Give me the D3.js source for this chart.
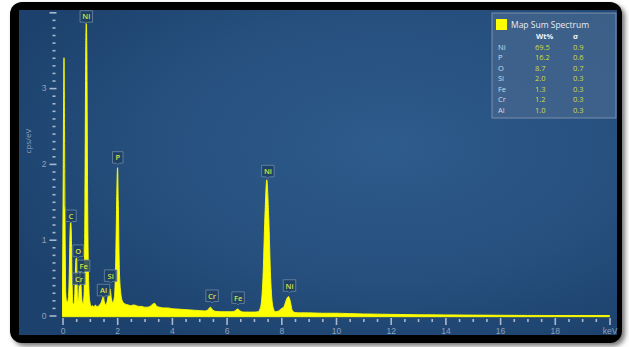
<!DOCTYPE html>
<html><head><meta charset="utf-8">
<script src="https://cdn.jsdelivr.net/npm/d3@7"></script>
<style>
html,body{margin:0;padding:0;background:#fff;}
svg{display:block;font-family:"Open Sans","Noto Sans",sans-serif;}
</style></head>
<body>
<svg id="chart" width="629" height="347"></svg>
<script>
// ---- data ----
// spectrum: [keV, cps/eV]
const spectrum = [
 [0.00,0.40],[0.02,1.50],[0.055,3.40],[0.09,1.40],[0.12,0.30],[0.15,0.19],[0.18,0.18],
 [0.22,0.25],[0.25,0.60],[0.28,1.15],[0.30,1.24],[0.32,1.12],[0.35,0.45],[0.38,0.16],
 [0.42,0.15],[0.45,0.30],[0.49,0.74],[0.51,0.76],[0.55,0.25],[0.58,0.18],
 [0.61,0.40],[0.64,0.57],[0.67,0.45],[0.71,0.20],[0.75,0.15],[0.79,0.30],
 [0.82,1.50],[0.85,3.50],[0.87,3.88],[0.89,3.50],[0.92,1.50],[0.96,0.40],[1.00,0.18],
 [1.05,0.12],[1.10,0.13],[1.15,0.11],[1.20,0.14],[1.25,0.12],[1.30,0.12],[1.35,0.14],
 [1.40,0.16],[1.45,0.21],[1.49,0.26],[1.53,0.18],[1.58,0.14],[1.63,0.18],[1.68,0.28],
 [1.74,0.35],[1.79,0.22],[1.84,0.17],[1.90,0.25],[1.95,0.80],[1.99,1.70],[2.013,1.95],
 [2.04,1.50],[2.08,0.60],[2.13,0.30],[2.18,0.20],[2.25,0.16],[2.30,0.15],[2.40,0.14],
 [2.50,0.13],[2.60,0.14],[2.70,0.13],[2.80,0.12],[2.90,0.12],[3.00,0.11],[3.10,0.11],
 [3.20,0.12],[3.30,0.15],[3.37,0.16],[3.45,0.12],[3.55,0.11],[3.70,0.10],[3.85,0.10],
 [4.00,0.09],[4.20,0.085],[4.40,0.08],[4.60,0.075],[4.80,0.07],[5.00,0.065],[5.20,0.06],
 [5.30,0.07],[5.41,0.11],[5.50,0.07],[5.60,0.055],[5.80,0.05],[6.00,0.05],[6.20,0.05],
 [6.30,0.06],[6.40,0.085],[6.50,0.06],[6.60,0.045],[6.80,0.045],[7.00,0.045],[7.15,0.05],
 [7.25,0.12],[7.33,0.50],[7.40,1.30],[7.47,1.79],[7.54,1.30],[7.61,0.50],[7.69,0.12],
 [7.78,0.05],[7.90,0.06],[8.00,0.09],[8.10,0.12],[8.20,0.22],[8.26,0.25],[8.32,0.20],
 [8.40,0.07],[8.50,0.04],[8.70,0.035],[9.00,0.035],[9.50,0.03],[10.0,0.03],[10.5,0.025],
 [11.0,0.02],[11.5,0.018],[12.0,0.015],[13.0,0.01],[14.0,0.008],[15.0,0.005],[16.0,0.003],
 [17.0,0.001],[18.0,0],[20.0,0]
];
// peak labels: [element, keV, cps/eV at label anchor]
const peakLabels = [
 ["Ni",0.87,3.85],["P",2.02,1.99],["C",0.31,1.22],["O",0.57,0.76],["Fe",0.77,0.56],
 ["Cr",0.60,0.39],["Al",1.50,0.24],["Si",1.76,0.43],["Cr",5.47,0.165],["Fe",6.42,0.14],
 ["Ni",7.51,1.81],["Ni",8.30,0.30]
];
const xMajorTicks = [0,2,4,6,8,10,12,14,16,18,20];
const xTickLabels = ["0","2","4","6","8","10","12","14","16","18","keV"];
const yMajorTicks = [0,1,2,3,4];
const yTickLabels = ["0","1","2","3",""];
const yAxisTitle = "cps/eV";
const legendTitle = "Map Sum Spectrum";
const legendHeaders = ["Wt%","σ"];
const elements = ["Ni","P","O","Si","Fe","Cr","Al"];
const wtPct = [69.5,16.2,8.7,2.0,1.3,1.2,1.0];
const sigma = [0.9,0.6,0.7,0.3,0.3,0.3,0.3];

// ---- drawing ----
const svg = d3.select("#chart");
const defs = svg.append("defs");
const sh = defs.append("filter").attr("id","shadow").attr("x","-5%").attr("y","-5%").attr("width","112%").attr("height","115%");
sh.append("feDropShadow").attr("dx",3).attr("dy",3).attr("stdDeviation",2.5).attr("flood-color","#000").attr("flood-opacity",0.55);
const rg = defs.append("radialGradient").attr("id","bg").attr("cx","62%").attr("cy","42%").attr("r","70%");
rg.append("stop").attr("offset","0%").attr("stop-color","#2d5b8b");
rg.append("stop").attr("offset","60%").attr("stop-color","#264f7d");
rg.append("stop").attr("offset","100%").attr("stop-color","#1c416c");

svg.append("rect").attr("x",10).attr("y",2).attr("width",612).attr("height",341).attr("rx",12)
  .attr("fill","#050505").attr("filter","url(#shadow)");
svg.append("rect").attr("x",19).attr("y",10).attr("width",598).attr("height",325).attr("fill","url(#bg)");

const x = d3.scaleLinear().domain([0,20]).range([62.5,609.5]);
const y = d3.scaleLinear().domain([0,4]).range([315.5,12.3]);

// spectrum
const area = d3.area().x(d=>x(d[0])).y0(y(0)+1.2).y1(d=>y(d[1])).curve(d3.curveMonotoneX);
svg.append("path").datum(spectrum).attr("d",area).attr("fill","#ffff00")
  .attr("stroke","#ffff00").attr("stroke-width",0.9).attr("stroke-linejoin","round");

// x axis
const tickCol = "#a9b8cc", labCol = "#8ea2bd";
const xMinor = d3.range(0,20.01,0.5).filter(v=>v%2!==0);
const gxm = svg.append("g").attr("transform","translate(0,319)")
  .call(d3.axisBottom(x).tickValues(xMinor).tickSize(3).tickFormat(""));
const gx = svg.append("g").attr("transform","translate(0,318)")
  .call(d3.axisBottom(x).tickValues(xMajorTicks).tickSize(7).tickPadding(3)
    .tickFormat((d,i)=>xTickLabels[i]));
[gx,gxm].forEach(g=>{g.select(".domain").remove(); g.selectAll("line").attr("stroke",tickCol).attr("stroke-width",1.6);});
gx.selectAll("text").attr("fill",labCol).attr("font-size",8.5);

// y axis
const yMinor = d3.range(0,40.5,1).map(v=>v/10).filter(v=>Math.abs(v-Math.round(v))>1e-6);
const gym = svg.append("g").attr("transform","translate(55.5,0)")
  .call(d3.axisLeft(y).tickValues(yMinor).tickSize(3).tickFormat(""));
const gy = svg.append("g").attr("transform","translate(56.5,0)")
  .call(d3.axisLeft(y).tickValues(yMajorTicks).tickSize(7).tickPadding(3)
    .tickFormat((d,i)=>yTickLabels[i]));
[gy,gym].forEach(g=>{g.select(".domain").remove(); g.selectAll("line").attr("stroke",tickCol).attr("stroke-width",1.6);});
gy.selectAll("text").attr("fill",labCol).attr("font-size",8.5);

svg.append("text").attr("transform",`translate(31,${y(2.3)}) rotate(-90)`).attr("text-anchor","middle")
  .attr("fill",labCol).attr("font-size",8).text(yAxisTitle);

// peak labels
const pl = svg.append("g").selectAll("g").data(peakLabels).join("g")
  .attr("transform",d=>`translate(${x(d[1])},${y(d[2])})`);
pl.append("path").attr("d",d=>{
  const w = d[0].length>1?12.5:10.5, h=11.5, hw=w/2;
  return `M${-hw},${-h-1.5}H${hw}V-1.5H1.5L0,0L-1.5,-1.5H${-hw}Z`;
}).attr("fill","#1d3f63").attr("fill-opacity",0.85).attr("stroke","#6f89a8").attr("stroke-width",0.8);
pl.append("text").attr("text-anchor","middle").attr("y",-4.2).attr("font-size",7.5).attr("font-weight",600)
  .attr("fill","#d8e04a").text(d=>d[0]);

// legend
const lg = svg.append("g");
lg.append("rect").attr("x",492).attr("y",13).attr("width",124).attr("height",105)
  .attr("fill","#46678f").attr("fill-opacity",0.75).attr("stroke","#8a9db6").attr("stroke-width",0.8);
lg.append("rect").attr("x",496).attr("y",19).attr("width",11).attr("height",11).attr("fill","#ffff00");
lg.append("text").attr("x",511).attr("y",28).attr("font-size",8.5).attr("fill","#e6ecf3").text(legendTitle);
lg.append("text").attr("x",536).attr("y",38.5).attr("font-size",7.5).attr("font-weight","bold").attr("fill","#eef2f6").text(legendHeaders[0]);
lg.append("text").attr("x",573).attr("y",38.5).attr("font-size",7.5).attr("font-weight","bold").attr("fill","#eef2f6").text(legendHeaders[1]);
const rowY = d3.scaleBand().domain(elements).range([42,115]);
elements.forEach((el,i)=>{
  const yy = rowY(el)+rowY.bandwidth()/2+2.8;
  lg.append("text").attr("x",498).attr("y",yy).attr("font-size",7.5).attr("fill","#d3dbe5").text(el);
  lg.append("text").attr("x",535).attr("y",yy).attr("font-size",7.5).attr("fill","#cfdc3e").text(wtPct[i].toFixed(1));
  lg.append("text").attr("x",573).attr("y",yy).attr("font-size",7.5).attr("fill","#cfdc3e").text(sigma[i].toFixed(1));
});
</script>
</body></html>
